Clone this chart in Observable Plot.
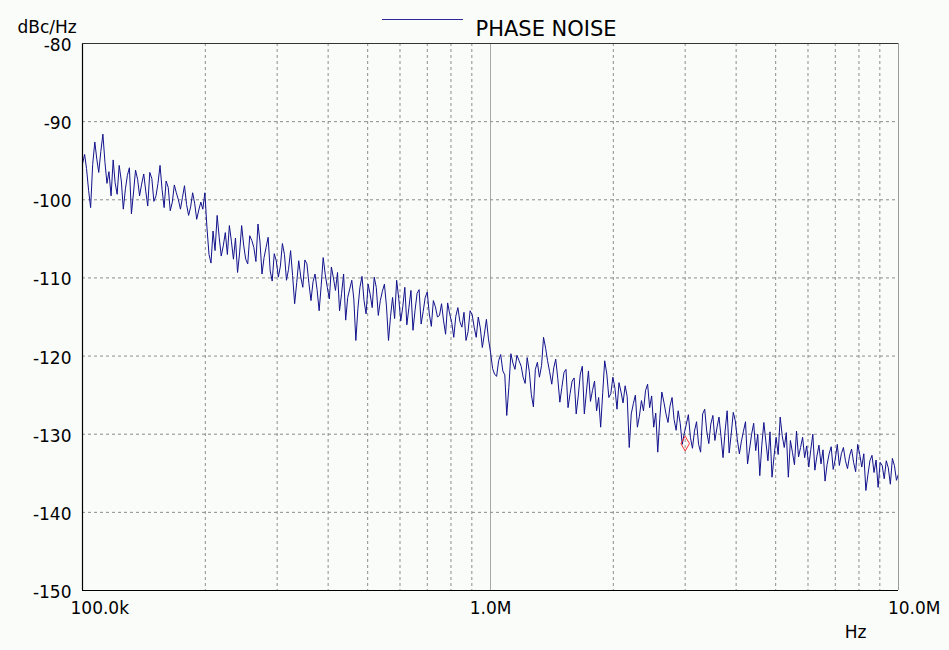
<!DOCTYPE html>
<html><head><meta charset="utf-8">
<script src="https://cdn.jsdelivr.net/npm/d3@7"></script>
<script src="https://cdn.jsdelivr.net/npm/@observablehq/plot@0.6"></script>
<style>
html,body{margin:0;padding:0;background:#fafcfa;}
#wrap{position:relative;width:949px;height:650px;font-family:"DejaVu Sans",sans-serif;color:#000;}
#legendLine{position:absolute;left:382px;top:19px;width:81px;height:1px;background:#2a2a9a;}
</style></head><body>
<div id="wrap"><div id="legendLine"></div></div>
<script>
const freqKHz = [
100,101.2,102.3,103.5,104.7,105.9,107.2,108.4,109.6,110.9,112.2,113.5,114.8,116.1,117.5,118.9,120.2,121.6,123.0,124.5,
125.9,127.4,128.8,130.3,131.8,133.4,134.9,136.5,138.0,139.6,141.3,142.9,144.5,146.2,147.9,149.6,151.4,153.1,154.9,156.7,
158.5,160.3,162.2,164.1,166.0,167.9,169.8,171.8,173.8,175.8,177.8,179.9,182.0,184.1,186.2,188.4,190.5,192.8,195.0,197.2,
199.5,201.8,204.2,206.5,208.9,211.3,213.8,216.3,218.8,221.3,223.9,226.5,229.1,231.7,234.4,237.1,239.9,242.7,245.5,248.3,
251.2,254.1,257.0,260.0,263.0,266.1,269.2,272.3,275.4,278.6,281.8,285.1,288.4,291.7,295.1,298.5,302.0,305.5,309.0,312.6,
316.2,319.9,323.6,327.3,331.1,335.0,338.8,342.8,346.7,350.8,354.8,358.9,363.1,367.3,371.5,375.8,380.2,384.6,389.0,393.6,
398.1,402.7,407.4,412.1,416.9,421.7,426.6,431.5,436.5,441.6,446.7,451.9,457.1,462.4,467.7,473.2,478.6,484.2,489.8,495.5,
501.2,507.0,512.9,518.8,524.8,530.9,537.0,543.3,549.5,555.9,562.3,568.9,575.4,582.1,588.8,595.7,602.6,609.5,616.6,623.7,
631.0,638.3,645.7,653.1,660.7,668.3,676.1,683.9,691.8,699.8,707.9,716.1,724.4,732.8,741.3,749.9,758.6,767.4,776.2,785.2,
794.3,803.5,812.8,822.2,831.8,841.4,851.1,861.0,871.0,881.0,891.3,901.6,912.0,922.6,933.3,944.1,955.0,966.1,977.2,988.6,
1000,1012,1023,1035,1047,1059,1072,1084,1096,1109,1122,1135,1148,1161,1175,1189,1202,1216,1230,1245,
1259,1274,1288,1303,1318,1334,1349,1365,1380,1396,1413,1429,1445,1462,1479,1496,1514,1531,1549,1567,
1585,1603,1622,1641,1660,1679,1698,1718,1738,1758,1778,1799,1820,1841,1862,1884,1905,1928,1950,1972,
1995,2018,2042,2065,2089,2113,2138,2163,2188,2213,2239,2265,2291,2317,2344,2371,2399,2427,2455,2483,
2512,2541,2570,2600,2630,2661,2692,2723,2754,2786,2818,2851,2884,2917,2951,2985,3020,3055,3090,3126,
3162,3199,3236,3273,3311,3350,3388,3428,3467,3508,3548,3589,3631,3673,3715,3758,3802,3846,3890,3936,
3981,4027,4074,4121,4169,4217,4266,4315,4365,4416,4467,4519,4571,4624,4677,4732,4786,4842,4898,4955,
5012,5070,5129,5188,5248,5309,5370,5433,5495,5559,5623,5689,5754,5821,5888,5957,6026,6095,6166,6237,
6310,6383,6457,6531,6607,6683,6761,6839,6918,6998,7079,7161,7244,7328,7413,7499,7586,7674,7762,7852,
7943,8035,8128,8222,8318,8414,8511,8610,8710,8810,8913,9016,9120,9226,9333,9441,9550,9661,9772,9886,
10000];

const phaseNoiseDbc = [
-95.4,-94.2,-96.0,-98.8,-101.0,-95.5,-92.6,-94.8,-96.5,-93.8,-91.6,-95.2,-97.9,-96.4,-99.5,-94.9,-97.8,-99.3,-95.6,-97.6,
-101.2,-98.6,-96.9,-95.9,-101.8,-99.0,-96.2,-97.4,-99.5,-98.0,-96.7,-98.9,-100.8,-96.5,-97.3,-100.2,-99.5,-97.9,-95.6,-98.7,
-101.0,-97.6,-98.4,-101.4,-100.3,-98.1,-99.1,-100.0,-101.2,-99.7,-98.2,-100.6,-102.0,-100.9,-99.1,-100.5,-102.5,-101.3,-100.3,-101.2,
-99.1,-103.5,-107.0,-108.1,-104.0,-106.5,-102.0,-104.8,-107.2,-105.9,-104.2,-107.0,-103.3,-105.3,-107.6,-104.9,-109.3,-106.8,-103.3,-105.8,
-107.6,-108.2,-104.6,-105.2,-106.1,-107.9,-103.1,-105.4,-109.5,-107.4,-106.1,-104.8,-109.1,-110.4,-106.9,-107.8,-109.9,-108.5,-105.6,-107.0,
-110.3,-108.9,-106.5,-109.7,-113.3,-110.6,-107.8,-109.9,-111.2,-107.7,-108.2,-110.7,-112.9,-110.5,-109.5,-111.5,-114.2,-111.0,-107.4,-109.6,
-111.2,-112.7,-108.6,-110.0,-111.6,-109.3,-114.2,-112.0,-109.5,-115.4,-112.5,-111.4,-110.3,-112.7,-118.0,-113.9,-111.2,-109.8,-112.9,-114.6,
-110.8,-112.1,-113.8,-109.9,-111.2,-114.8,-112.9,-111.7,-110.8,-113.6,-118.0,-114.9,-112.5,-115.2,-110.3,-112.6,-115.5,-113.7,-111.2,-116.0,
-113.8,-111.6,-116.7,-114.2,-112.0,-111.5,-115.9,-114.3,-112.5,-111.8,-114.6,-116.2,-112.9,-113.7,-115.0,-114.8,-113.3,-115.5,-117.2,-113.2,
-114.6,-115.7,-117.6,-114.9,-113.8,-115.6,-116.3,-114.4,-118.0,-116.9,-114.2,-114.7,-116.3,-117.6,-115.0,-116.4,-118.9,-117.2,-115.3,-117.8,
-119.5,-121.6,-122.3,-122.6,-120.6,-119.8,-121.9,-122.4,-127.6,-124.0,-119.7,-120.9,-121.7,-119.9,-120.6,-121.3,-122.7,-123.5,-120.2,-122.0,
-124.9,-126.5,-121.7,-120.8,-122.7,-121.2,-117.6,-119.0,-120.6,-122.0,-123.6,-121.5,-120.4,-122.9,-125.9,-124.0,-122.1,-121.7,-126.6,-124.8,
-123.2,-122.8,-127.4,-125.1,-122.3,-121.3,-127.4,-124.6,-121.9,-125.8,-124.4,-123.2,-127.0,-125.3,-129.1,-124.7,-120.6,-122.3,-125.3,-124.8,
-122.7,-124.1,-126.8,-123.4,-124.6,-126.0,-123.8,-125.2,-131.7,-127.4,-126.1,-125.0,-129.1,-127.7,-125.7,-127.0,-124.4,-123.6,-126.6,-125.1,
-129.1,-127.3,-132.3,-128.0,-124.6,-125.9,-127.4,-128.5,-126.4,-125.3,-128.1,-129.5,-127.0,-128.6,-131.3,-129.9,-128.7,-127.5,-130.4,-131.8,
-129.6,-128.4,-131.3,-132.3,-127.4,-126.8,-129.6,-131.2,-128.7,-127.6,-130.8,-129.2,-127.8,-130.3,-133.0,-129.6,-127.0,-132.4,-130.0,-127.2,
-128.3,-130.7,-132.5,-130.9,-129.6,-128.4,-133.8,-131.9,-130.0,-128.6,-132.1,-130.0,-135.3,-131.4,-128.5,-131.0,-133.4,-129.7,-135.5,-132.8,
-130.4,-132.6,-127.8,-130.2,-131.7,-129.8,-135.5,-130.8,-132.3,-133.9,-129.6,-132.9,-131.7,-130.4,-133.0,-131.5,-134.2,-132.0,-130.0,-134.6,
-132.8,-131.4,-133.8,-132.0,-136.0,-133.9,-132.5,-131.6,-134.5,-133.2,-131.3,-134.0,-132.5,-131.7,-133.4,-134.4,-132.8,-131.9,-133.6,-134.8,
-131.3,-132.6,-134.2,-132.5,-137.2,-135.2,-133.4,-132.7,-134.9,-133.3,-136.8,-133.6,-134.0,-135.7,-133.4,-134.3,-136.4,-133.1,-134.0,-135.9,
-135.1];

const xTicks = [1e5, 1e6, 1e7];
const xTickLabels = ["100.0k", "1.0M", "10.0M"];
const yTicks = [-80, -90, -100, -110, -120, -130, -140, -150];
const xGridMinor = [2e5, 3e5, 4e5, 5e5, 6e5, 7e5, 8e5, 9e5, 2e6, 3e6, 4e6, 5e6, 6e6, 7e6, 8e6, 9e6];
const markerFreqHz = [3.0e6];
const markerDbc = [-131.2];
const seriesName = "PHASE NOISE";
const yUnit = "dBc/Hz";
const xUnit = "Hz";

const data = freqKHz.map((f, i) => ({f: f * 1000, v: phaseNoiseDbc[i]}));
const markers = markerFreqHz.map((f, i) => ({f, v: markerDbc[i]}));
const lineColor = "#12128c";
const gridColor = "#8c8c8c";

const plot = Plot.plot({
  width: 949, height: 650,
  marginLeft: 82, marginRight: 51, marginTop: 43, marginBottom: 60,
  style: {background: "transparent", fontFamily: "'DejaVu Sans', sans-serif", fontSize: "17px", color: "#000", overflow: "visible"},
  x: {type: "log", domain: [1e5, 1e7], axis: null},
  y: {domain: [-150, -80], axis: null},
  marks: [
    Plot.ruleX(xGridMinor, {stroke: gridColor, strokeDasharray: "3,3", strokeWidth: 1}),
    Plot.ruleX([xTicks[1]], {stroke: "#a9a9a9", strokeWidth: 1}),
    Plot.ruleY(yTicks.slice(1, -1), {stroke: gridColor, strokeDasharray: "3,3", strokeWidth: 1}),
    Plot.line(data, {x: "f", y: "v", stroke: lineColor, strokeWidth: 1}),
    Plot.dot(markers, {x: "f", y: "v", symbol: "diamond", r: 4.5, stroke: "#ff3030", fill: "none", strokeWidth: 1}),
    Plot.ruleX([xTicks[0]], {stroke: "#000", strokeWidth: 1.2}),
    Plot.ruleY([yTicks[yTicks.length - 1]], {stroke: "#000", strokeWidth: 1.2}),
    Plot.ruleY([yTicks[0]], {stroke: "#333", strokeWidth: 1}),
    Plot.ruleX([xTicks[2]], {stroke: "#9a9a9a", strokeWidth: 1}),
    Plot.text(yTicks, {y: d => d, frameAnchor: "left", textAnchor: "end", dx: -11, dy: 2, text: d => String(d), fill: "#000"}),
    Plot.text([xTicks[0]], {x: d => d, frameAnchor: "bottom", textAnchor: "start", dx: -12, dy: 23, text: () => xTickLabels[0], fill: "#000"}),
    Plot.text([xTicks[1]], {x: d => d, frameAnchor: "bottom", textAnchor: "middle", dx: 0, dy: 23, text: () => xTickLabels[1], fill: "#000"}),
    Plot.text([xTicks[2]], {x: d => d, frameAnchor: "bottom", textAnchor: "end", dx: 42, dy: 23, text: () => xTickLabels[2], fill: "#000"}),
    Plot.text([yUnit], {frameAnchor: "top-left", textAnchor: "start", dx: -65, dy: -23, text: d => d, fill: "#000"}),
    Plot.text([xUnit], {frameAnchor: "bottom-left", textAnchor: "middle", dx: 773, dy: 47, text: d => d, fill: "#000"}),
    Plot.text([seriesName], {frameAnchor: "top-left", textAnchor: "start", dx: 393, dy: -22, text: d => d, fill: "#000", fontSize: 21})
  ]
});
plot.style.position = "absolute";
plot.style.left = "0px";
plot.style.top = "0px";
document.getElementById("wrap").appendChild(plot);
</script>
</body></html>
